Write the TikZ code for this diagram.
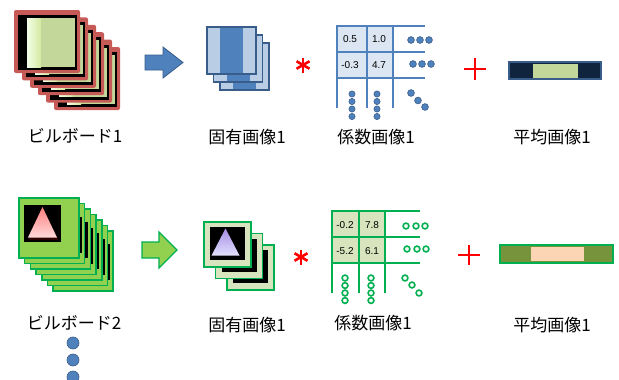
\documentclass[tikz,border=0pt]{standalone}
\usepackage{fontspec}
\setmainfont{Liberation Sans}
\newfontfamily\jpfont{Noto Sans CJK JP}

\definecolor{bbred}{HTML}{C55A57}
\definecolor{khaki}{HTML}{C4D79B}
\definecolor{paleleft}{HTML}{F4FFE8}
\definecolor{paleright}{HTML}{D3EAA0}
\definecolor{mblue}{HTML}{4F81BD}
\definecolor{dblue}{HTML}{385D8A}
\definecolor{lblue}{HTML}{B9CDE5}
\definecolor{cellblue}{HTML}{DCE6F2}
\definecolor{navy}{HTML}{10243E}
\definecolor{mgreen}{HTML}{00B050}
\definecolor{lgreen}{HTML}{92D050}
\definecolor{palegreen}{HTML}{D7E4BD}
\definecolor{olive}{HTML}{77933C}
\definecolor{peach}{HTML}{FCD5B5}

\tikzset{
  lbl/.style={font=\jpfont\fontsize{17}{20}\selectfont, inner sep=0pt},
  num/.style={font=\fontsize{10}{12}\selectfont, inner sep=0pt},
  bluegrid/.style={draw=mblue, line width=2pt},
  greengrid/.style={draw=mgreen, line width=2.4pt},
  bluedot/.style={fill=mblue, draw=dblue, line width=0.6pt},
  greendot/.style={fill=white, draw=mgreen, line width=1.6pt},
  times/.style={draw=red, line width=2.6pt},
  plus/.style={draw=red, line width=2.2pt},
}

\begin{document}
\begin{tikzpicture}[x=1pt,y=-1pt]
\useasboundingbox[fill=white] (0,0) rectangle (619,380);

% ---------- row 1: billboard stack (red frames) ----------
\foreach \k in {5,4,...,0}{
  \begin{scope}[shift={({14+8*\k},{10+7.4*\k})}]
    \fill[bbred, rounded corners=2pt] (0,0) rectangle (66,63);
    \fill[black] (4,5) rectangle (63,60);
    \shade[left color=paleleft, right color=paleright] (13,8) rectangle (27,57);
    \fill[khaki] (27,8) rectangle (61,57);
  \end{scope}
}
\node[lbl] (bb1) at (75,136) {ビルボード1};

% block arrow
\filldraw[fill=mblue, draw=dblue, line width=0.8pt]
  (145,55) -- (163,55) -- (163,47) -- (183,62.5) -- (163,78) -- (163,70) -- (145,70) -- cycle;

% eigen images (blue)
\foreach \k in {2,1,0}{
  \begin{scope}[shift={({207+6.5*\k},{27+8*\k})}]
    \fill[lblue] (0,0) rectangle (49,47);
    \fill[mblue] (13,0) rectangle (36,47);
    \draw[dblue, line width=1.3pt] (0,0) rectangle (49,47);
  \end{scope}
}
\node[lbl] (eig1) at (247,137) {固有画像1};

% multiplication sign
\coordinate (m1) at (303,65);
\draw[times] (m1) +(0,-7.5) -- +(0,7.5);
\draw[times] (m1) +(-6.5,-3.75) -- +(6.5,3.75);
\draw[times] (m1) +(-6.5,3.75) -- +(6.5,-3.75);

% coefficient grid (blue)
\fill[cellblue] (337,26) rectangle (393,78);
\draw[bluegrid] (337,26) -- (425,26);
\draw[bluegrid] (337,52) -- (425,52);
\draw[bluegrid] (337,78) -- (425,78);
\draw[bluegrid] (337,25) -- (337,108);
\draw[bluegrid] (367,25) -- (367,108);
\draw[bluegrid] (393,25) -- (393,108);
\node[num] (c11) at (350,39.5) {0.5};
\node[num] (c12) at (379,39.5) {1.0};
\node[num] (c21) at (350,65.5) {-0.3};
\node[num] (c22) at (379,65.5) {4.7};
\foreach \x in {411,420,429} \path[bluedot] (\x,40) circle (3.4);
\foreach \x in {413,422,431} \path[bluedot] (\x,64) circle (3.4);
\foreach \y in {94,101.5,109,116.5} {
  \path[bluedot] (352,\y) circle (3.1);
  \path[bluedot] (377,\y) circle (3.1);
}
\path[bluedot] (411,93) circle (3.4);
\path[bluedot] (418,100.5) circle (3.4);
\path[bluedot] (425,107) circle (3.4);
\node[lbl] (coef1) at (376,137) {係数画像1};

% plus sign
\coordinate (p1) at (475,69);
\draw[plus] (p1) +(-11,0) -- +(11,0);
\draw[plus] (p1) +(0,-11) -- +(0,11);

% mean image bar
\filldraw[fill=navy, draw=dblue, line width=1.5pt] (509,62) rectangle (601,79);
\fill[khaki] (533,63.5) rectangle (578,77.5);
\node[lbl] (mean1) at (552,137) {平均画像1};

% ---------- row 2: billboard stack (green frames) ----------
\foreach \k in {6,5,...,1}{
  \begin{scope}[shift={({19+5.7*\k},{198+5.5*\k})}]
    \filldraw[fill=lgreen, draw=mgreen, line width=1.5pt] (0,0) rectangle (60,60);
    \fill[black] (54.6,13) rectangle (57.2,49);
  \end{scope}
}
\begin{scope}[shift={(19,198)}]
  \filldraw[fill=lgreen, draw=mgreen, line width=1.5pt] (0,0) rectangle (60,60);
  \fill[black] (5,7) rectangle (42,44);
  \fill[black!70!red, opacity=0.6] (9.5,39) rectangle (38.5,41.5);
  \shade[top color=red!50, bottom color=red!15] (23.5,9) -- (9,39.5) -- (38,39.5) -- cycle;
\end{scope}
\node[lbl] (bb2) at (74,323) {ビルボード2};

% block arrow
\filldraw[fill=lgreen, draw=mgreen, line width=1.2pt]
  (142,242) -- (159,242) -- (159,232) -- (177,250) -- (159,268) -- (159,258) -- (142,258) -- cycle;

% eigen images (green)
\foreach \k in {2,1,0}{
  \begin{scope}[shift={({204+11.5*\k},{222+11.5*\k})}]
    \filldraw[fill=palegreen, draw=mgreen, line width=1.5pt] (0,0) rectangle (47,45);
    \fill[black] (6,5) rectangle (41,38);
    \shade[top color=violet!45!blue!45, bottom color=violet!10!blue!12] (21.5,6.5) -- (7.5,33.5) -- (35.5,33.5) -- cycle;
  \end{scope}
}
\node[lbl] (eig2) at (247,325) {固有画像1};

% multiplication sign
\coordinate (m2) at (301,257);
\draw[times] (m2) +(0,-7.5) -- +(0,7.5);
\draw[times] (m2) +(-6.5,-3.75) -- +(6.5,3.75);
\draw[times] (m2) +(-6.5,3.75) -- +(6.5,-3.75);

% coefficient grid (green)
\fill[palegreen] (332,211) rectangle (385,263);
\draw[greengrid] (332,211) -- (420,211);
\draw[greengrid] (332,237) -- (420,237);
\draw[greengrid] (332,263) -- (420,263);
\draw[greengrid] (332,210) -- (332,293);
\draw[greengrid] (359,210) -- (359,293);
\draw[greengrid] (385,210) -- (385,293);
\node[num] (d11) at (345,225) {-0.2};
\node[num] (d12) at (372,225) {7.8};
\node[num] (d21) at (345,251) {-5.2};
\node[num] (d22) at (372,251) {6.1};
\foreach \x in {406,416,425} \path[greendot] (\x,226) circle (2.9);
\foreach \x in {407,417,426} \path[greendot] (\x,249) circle (2.9);
\foreach \y in {278,285.5,293,300.5} {
  \path[greendot] (345,\y) circle (2.9);
  \path[greendot] (371,\y) circle (2.9);
}
\path[greendot] (405,278) circle (2.9);
\path[greendot] (412,285) circle (2.9);
\path[greendot] (419,293) circle (2.9);
\node[lbl] (coef2) at (373,323) {係数画像1};

% plus sign
\coordinate (p2) at (469,255);
\draw[plus] (p2) +(-11,0) -- +(11,0);
\draw[plus] (p2) +(0,-10) -- +(0,10);

% mean image bar
\filldraw[fill=olive, draw=mgreen, line width=1.5pt] (500,245) rectangle (613,263);
\fill[peach] (531,247) rectangle (584,261);
\node[lbl] (mean2) at (552,325) {平均画像1};

% continuation dots
\foreach \y in {343,360,377} \path[bluedot] (73,\y) circle (6);
\end{tikzpicture}
\end{document}
